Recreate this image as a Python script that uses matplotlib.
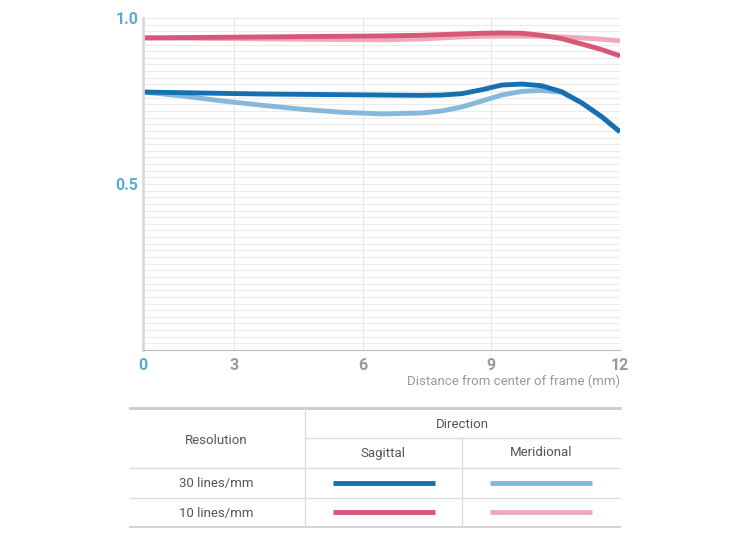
import numpy as np
import matplotlib.pyplot as plt
from matplotlib.lines import Line2D

plt.rcParams['font.family'] = ['Roboto', 'DejaVu Sans']

x = [0.88, 1.81, 2.74, 3.67, 4.6, 5.52, 6.45, 7.38, 7.85, 8.31, 8.78, 9.24, 9.71, 10.17, 10.64, 11.1, 11.57, 12]
sag30 = [0.777, 0.775, 0.773, 0.771, 0.770, 0.769, 0.768, 0.767, 0.768, 0.772, 0.784, 0.798, 0.801, 0.796, 0.778, 0.745, 0.703, 0.657]
mer30 = [0.777, 0.765, 0.750, 0.737, 0.725, 0.716, 0.711, 0.714, 0.720, 0.732, 0.750, 0.768, 0.779, 0.782, 0.776, 0.745, 0.703, 0.657]
sag10 = [0.940, 0.941, 0.942, 0.943, 0.944, 0.945, 0.946, 0.948, 0.950, 0.952, 0.954, 0.955, 0.954, 0.948, 0.938, 0.922, 0.905, 0.886]
mer10 = [0.940, 0.939, 0.938, 0.937, 0.936, 0.935, 0.934, 0.937, 0.940, 0.943, 0.945, 0.946, 0.946, 0.945, 0.943, 0.940, 0.936, 0.931]
xticks = [0.88, 3, 6, 9, 12]
xlabels = ['0', '3', '6', '9', '12']

c_s30 = '#1670b0'
c_m30 = '#86b8dc'
c_s10 = '#d65778'
c_m10 = '#eeaabd'

fig = plt.figure(figsize=(7.5, 5.43), dpi=100)
ax = fig.add_axes([143/750, 1-350/543, 477/750, 332/543])

for v in np.arange(0.02, 1.0001, 0.02):
    ax.axhline(v, color='#ececec', lw=0.8, zorder=0)
for v in [3, 6, 9]:
    ax.axvline(v, color='#e6e6e6', lw=0.8, zorder=0)

ax.plot(x, mer10, color=c_m10, lw=3.5, solid_capstyle='butt')
ax.plot(x, sag10, color=c_s10, lw=3.5, solid_capstyle='butt')
ax.plot(x, mer30, color=c_m30, lw=3.5, solid_capstyle='butt')
ax.plot(x, sag30, color=c_s30, lw=3.5, solid_capstyle='butt')

ax.set_xlim(0.88, 12)
ax.set_ylim(0, 1.0)
for s in ['top', 'right']:
    ax.spines[s].set_visible(False)
ax.spines['left'].set_color('#d8d8d8')
ax.spines['left'].set_linewidth(2)
ax.spines['bottom'].set_color('#bbbbbb')
ax.tick_params(length=0)
ax.set_xticks(xticks)
ax.set_xticklabels(xlabels, color='#999999', fontsize=11.5, fontweight='bold')
ax.get_xticklabels()[0].set_color('#5aaad8')
ax.set_yticks([0.5, 1.0])
ax.set_yticklabels(['0.5', '1.0'], color='#5aaad8', fontsize=11.5, fontweight='bold')
ax.tick_params(axis='x', pad=6)
fig.text(620/750, 1-381/543, 'Distance from center of frame (mm)', ha='right', va='center', color='#999999', fontsize=9.5)

# legend table
def fx(px):
    return px/750
def fy(py):
    return 1-py/543

def hline(x0, x1, y, c='#dddddd', lw=1):
    fig.add_artist(Line2D([fx(x0), fx(x1)], [fy(y), fy(y)], color=c, lw=lw))

def vline(xx, y0, y1):
    fig.add_artist(Line2D([fx(xx), fx(xx)], [fy(y0), fy(y1)], color='#dddddd', lw=1))

hline(130, 620, 408, '#cccccc', 2)
hline(305, 620, 438)
hline(130, 620, 468)
hline(130, 620, 498)
hline(130, 620, 527, '#cccccc', 1.2)
vline(305, 408, 527)
vline(462, 438, 527)

tc = '#555555'
fig.text(fx(216), fy(440), 'Resolution', ha='center', va='center', color=tc, fontsize=9.5)
fig.text(fx(462), fy(424), 'Direction', ha='center', va='center', color=tc, fontsize=9.5)
fig.text(fx(383), fy(453), 'Sagittal', ha='center', va='center', color=tc, fontsize=9.5)
fig.text(fx(541), fy(453), 'Meridional', ha='center', va='center', color=tc, fontsize=9.5)
fig.text(fx(216), fy(483), '30 lines/mm', ha='center', va='center', color=tc, fontsize=9.5)
fig.text(fx(216), fy(513), '10 lines/mm', ha='center', va='center', color=tc, fontsize=9.5)

for (x0, y, c) in [(333, 483, c_s30), (490, 483, c_m30), (333, 512, c_s10), (490, 512, c_m10)]:
    fig.add_artist(Line2D([fx(x0), fx(x0+102)], [fy(y), fy(y)], color=c, lw=3.5, solid_capstyle='butt'))

fig.savefig('out.png', dpi=100)
